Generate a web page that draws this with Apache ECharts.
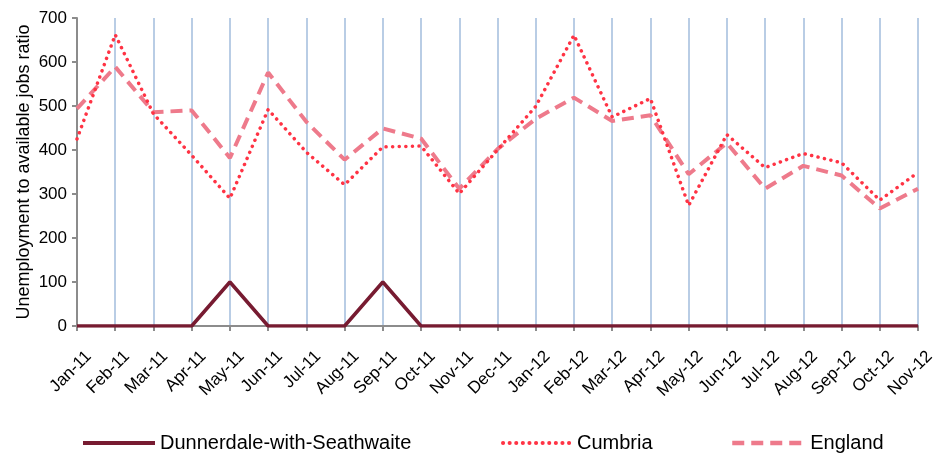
<!DOCTYPE html>
<html>
<head>
<meta charset="utf-8">
<script src="https://cdn.jsdelivr.net/npm/echarts@6/dist/echarts.min.js"></script>
<style>
  html, body { margin: 0; padding: 0; background: #fff; }
  #chart { width: 934px; height: 454px; }
</style>
</head>
<body>
<div id="chart"></div>
<script>
// 数据
let months = ['Jan-11','Feb-11','Mar-11','Apr-11','May-11','Jun-11','Jul-11','Aug-11','Sep-11','Oct-11','Nov-11','Dec-11',
              'Jan-12','Feb-12','Mar-12','Apr-12','May-12','Jun-12','Jul-12','Aug-12','Sep-12','Oct-12','Nov-12'];
let dunnerdale = [0,0,0,0,100,0,0,0,100,0,0,0,0,0,0,0,0,0,0,0,0,0,0];
let cumbria = [425,662,482,388,290,492,395,321,407,409,301,400,499,661,475,517,274,435,360,392,371,286,349];
let england = [494,589,486,490,382,576,464,378,449,426,312,402,471,519,466,479,345,416,312,364,342,267,312];
let yTicks = [0,100,200,300,400,500,600,700];

let font = 'Liberation Sans, Arial, sans-serif';

let chart = echarts.init(document.getElementById('chart'));
let legendText = { fontFamily: font, fontSize: 20, color: '#000' };
let option = {
    animation: false,
    grid: { left: 77, right: 16, top: 18, bottom: 128, containLabel: false, outerBoundsMode: 'none' },
    legend: [
        { data: ['Dunnerdale-with-Seathwaite'], left: 76, top: 428, itemWidth: 72, itemHeight: 14,
          itemStyle: { opacity: 0 }, lineStyle: { width: 4 }, textStyle: legendText },
        { data: ['Cumbria'], left: 496, top: 428, itemWidth: 69, itemHeight: 14,
          itemStyle: { opacity: 0 }, lineStyle: { width: 4 }, textStyle: legendText },
        { data: ['England'], left: 725, top: 428, itemWidth: 73, itemHeight: 14,
          itemStyle: { opacity: 0 }, lineStyle: { width: 4.5 }, textStyle: legendText }
    ],
    xAxis: {
        type: 'category',
        data: months,
        boundaryGap: false,
        axisLine: { lineStyle: { color: '#8c8c8c', width: 2 } },
        axisTick: { alignWithLabel: true, length: 5, lineStyle: { color: '#8c8c8c', width: 2 } },
        axisLabel: { interval: 0, rotate: 45, color: '#000', fontFamily: font, fontSize: 17, margin: 16,
            verticalAlign: 'top', lineHeight: 33 },
        splitLine: { show: true, interval: 0, lineStyle: { color: '#b9cde5', width: 2 } }
    },
    yAxis: {
        type: 'value',
        min: 0,
        max: 700,
        interval: 100,
        name: 'Unemployment to available jobs ratio',
        nameLocation: 'middle',
        nameGap: 44,
        nameMoveOverlap: false,
        nameTextStyle: { color: '#000', fontFamily: font, fontSize: 18 },
        axisLine: { show: true, lineStyle: { color: '#8c8c8c', width: 2 } },
        axisTick: { show: true, length: 5, lineStyle: { color: '#8c8c8c', width: 2 } },
        axisLabel: { color: '#000', fontFamily: font, fontSize: 17, margin: 10,
            formatter: function (v) { return yTicks.indexOf(v) >= 0 ? String(v) : ''; } },
        splitLine: { show: false }
    },
    series: [
        {
            name: 'Dunnerdale-with-Seathwaite',
            type: 'line',
            data: dunnerdale,
            symbol: 'none',
            color: '#771b31',
            lineStyle: { color: '#771b31', width: 3.5 },
            z: 5
        },
        {
            name: 'Cumbria',
            type: 'line',
            data: cumbria,
            symbol: 'none',
            color: '#ff3344',
            lineStyle: { color: '#ff3344', width: 3.5, type: [0.1, 6.5], cap: 'round' },
            z: 4
        },
        {
            name: 'England',
            type: 'line',
            data: england,
            symbol: 'none',
            color: '#ee7a8b',
            lineStyle: { color: '#ee7a8b', width: 4, type: [12, 7] },
            z: 3
        }
    ]
};
chart.setOption(option);
</script>
</body>
</html>
